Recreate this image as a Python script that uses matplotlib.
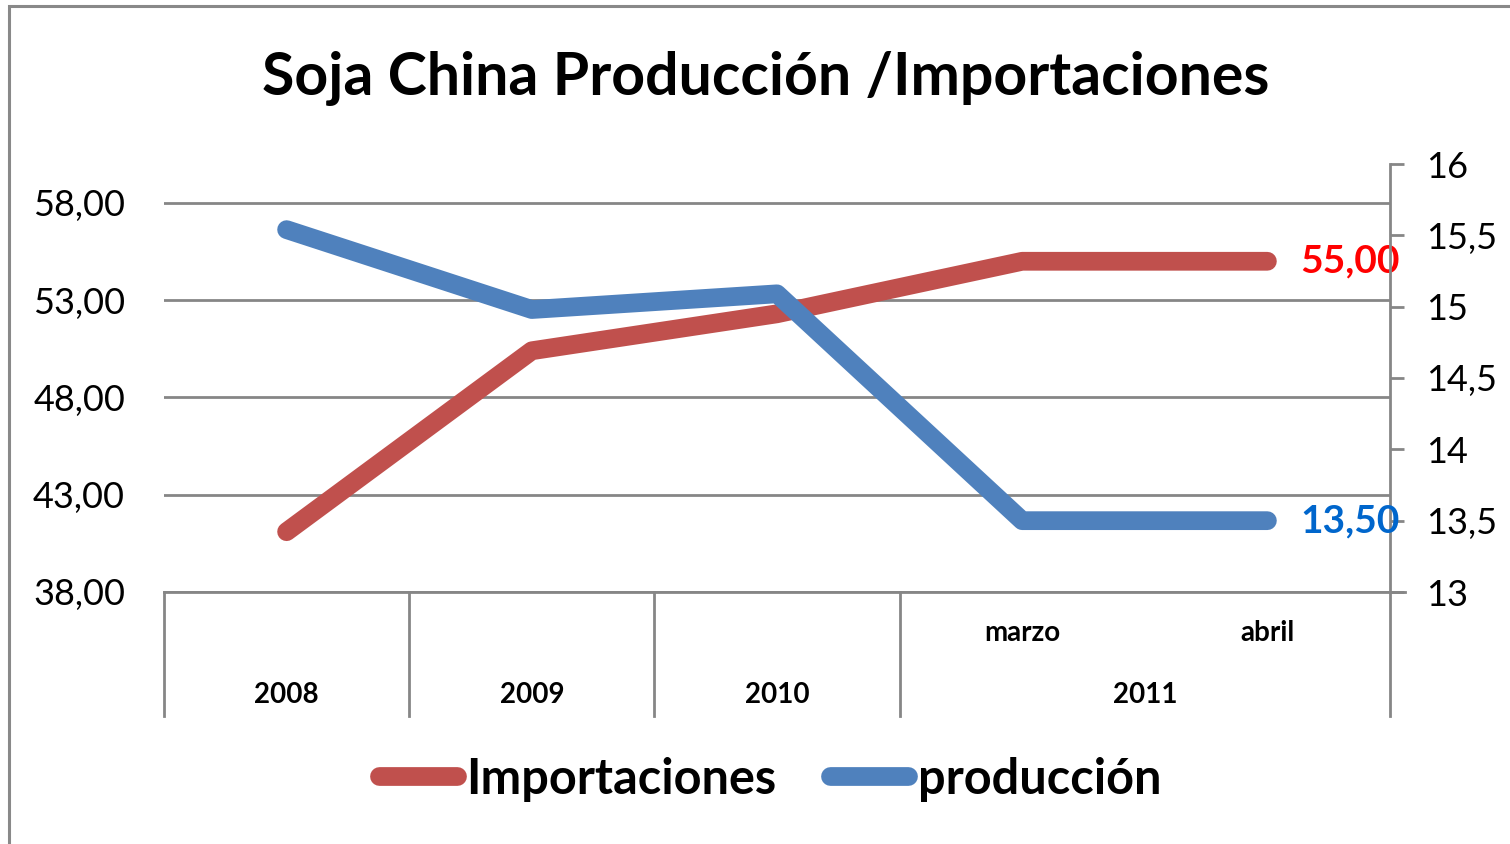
import matplotlib
matplotlib.use("Agg")
import matplotlib.pyplot as plt
import matplotlib.transforms as mtransforms
from matplotlib.lines import Line2D
from matplotlib.patches import Rectangle

plt.rcParams['font.family'] = ['Lato', 'DejaVu Sans']

# ---- data ----
title = "Soja China Producción /Importaciones"
sub_labels = ["", "", "", "marzo", "abril"]
group_labels = ["2008", "2009", "2010", "2011"]
group_sizes = [1, 1, 1, 2]
importaciones = [41.1, 50.4, 52.3, 55.0, 55.0]
produccion = [15.54, 14.98, 15.09, 13.5, 13.5]
left_ticks = [38, 43, 48, 53, 58]
right_ticks = [13, 13.5, 14, 14.5, 15, 15.5, 16]

RED = "#C0504D"
BLUE = "#4F81BD"
GRID = "#868686"

W, H = 1510, 844
fig = plt.figure(figsize=(W / 100, H / 100), dpi=100)

# outer chart border
fig.patches.append(Rectangle((9 / W, -0.1), 1.2, 1 - 6 / H + 0.1, transform=fig.transFigure,
                             fill=False, edgecolor="#898989", linewidth=2.2, zorder=0))

x0, x1 = 164, 1390
yb, yt = 592, 164
ax = fig.add_axes([x0 / W, 1 - yb / H, (x1 - x0) / W, (yb - yt) / H])
ax2 = ax.twinx()

n = len(importaciones)
xs = list(range(n))
ax.set_xlim(-0.5, n - 0.5)
ax.set_ylim(38, 60)
ax2.set_ylim(13, 16)

for a in (ax, ax2):
    for s in a.spines.values():
        s.set_visible(False)
    a.patch.set_visible(False)

ax.set_yticks(left_ticks)
ax.set_yticklabels([f"{v:.2f}".replace(".", ",") for v in left_ticks], fontsize=26)
ax.tick_params(axis="y", length=0, pad=28)
ax.yaxis.grid(True, color=GRID, linewidth=2.0)
ax.set_axisbelow(True)
ax.set_xticks([])

ax2.spines["right"].set_visible(True)
ax2.spines["right"].set_color(GRID)
ax2.spines["right"].set_linewidth(2.0)
ax2.set_yticks(right_ticks)
ax2.set_yticklabels([f"{v:g}".replace(".", ",") for v in right_ticks], fontsize=26)
ax2.tick_params(axis="y", length=10, width=2.0, color=GRID, pad=16)
ax2.set_xticks([])

LW = 13.5
ax.plot(xs, importaciones, color=RED, linewidth=LW, solid_capstyle="round",
        solid_joinstyle="round", zorder=3)
ax2.plot(xs, produccion, color=BLUE, linewidth=LW, solid_capstyle="round",
         solid_joinstyle="round", zorder=3)

# data labels on last point
ax.annotate(f"{importaciones[-1]:.2f}".replace(".", ","), (xs[-1], importaciones[-1]),
            xytext=(24, 0), textcoords="offset points", color="#FF0000",
            fontsize=28, fontweight="bold", va="center", ha="left", zorder=5)
ax2.annotate(f"{produccion[-1]:.2f}".replace(".", ","), (xs[-1], produccion[-1]),
             xytext=(24, 0), textcoords="offset points", color="#0066CC",
             fontsize=28, fontweight="bold", va="center", ha="left", zorder=5)

# category axis (multi-level)
trans = mtransforms.blended_transform_factory(ax.transData, ax.transAxes)
ph = yb - yt
ax.plot([-0.5, n - 0.5], [0, 0], transform=trans, color=GRID, lw=2.0, clip_on=False)
ax.plot([n - 0.5, n - 0.5 + 0.06], [0, 0], transform=trans, color=GRID, lw=2.0, clip_on=False)
bottom = -(716 - yb) / ph
row1 = -(633 - yb) / ph
row2 = -(695 - yb) / ph
bounds = [-0.5]
for g in group_sizes:
    bounds.append(bounds[-1] + g)
for b in bounds:
    ax.plot([b, b], [0, bottom], transform=trans, color=GRID, lw=2.0, clip_on=False)
for i, lab in enumerate(sub_labels):
    if lab:
        ax.text(xs[i], row1, lab, transform=trans, ha="center", va="center",
                fontsize=20, fontweight="bold")
for j, lab in enumerate(group_labels):
    cx = (bounds[j] + bounds[j + 1]) / 2
    ax.text(cx, row2, lab, transform=trans, ha="center", va="center",
            fontsize=20, fontweight="bold")

# title
fig.text(766 / W, 1 - 78 / H, title, ha="center", va="center", fontsize=42.5,
         fontweight="bold")

# legend
handles = [Line2D([], [], color=RED, lw=LW, solid_capstyle="round"),
           Line2D([], [], color=BLUE, lw=LW, solid_capstyle="round")]
leg = fig.legend(handles, ["Importaciones", "producción"], loc="center",
                 bbox_to_anchor=(770 / W, 1 - 779 / H), ncol=2, frameon=False,
                 prop={"size": 35, "weight": "bold"}, handlelength=1.6,
                 handletextpad=0.2, columnspacing=1.1)

fig.savefig("out.png", dpi=100, facecolor="white")
